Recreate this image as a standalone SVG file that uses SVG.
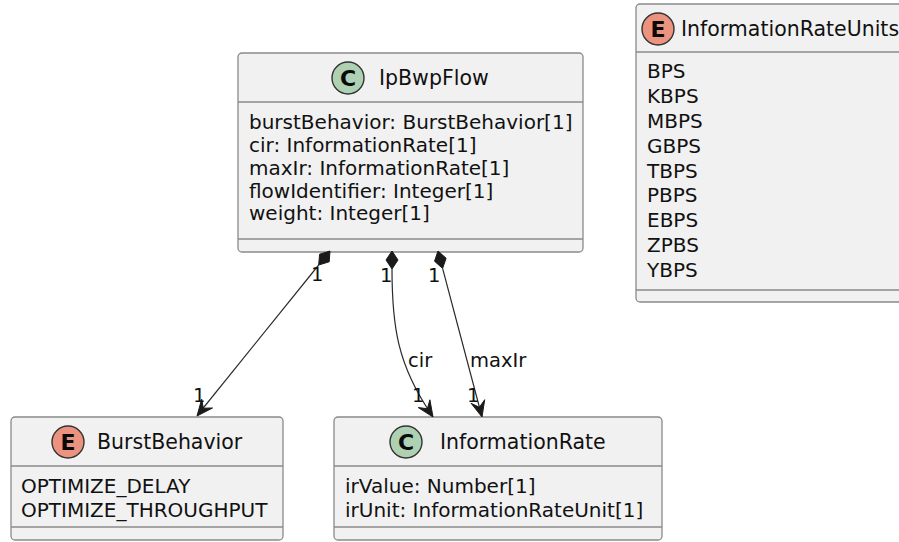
<svg xmlns="http://www.w3.org/2000/svg" width="899" height="542" viewBox="0 0 899 542">
  <style>
    .box { fill: #F1F1F1; stroke: #8a8a8a; stroke-width: 1.3; }
    .sep { stroke: #8a8a8a; stroke-width: 1.3; }
    .cls { fill: #ADD1B2; stroke: #333; stroke-width: 1.4; }
    .enm { fill: #EB937F; stroke: #333; stroke-width: 1.4; }
    .glyph { font-family: "DejaVu Sans", "Liberation Sans", sans-serif; font-size: 22px; font-weight: bold; fill: #0a0a0a; text-anchor: middle; }
    .title { font-family: "DejaVu Sans", "Liberation Sans", sans-serif; font-size: 20.5px; fill: #111; }
    .attr { font-family: "DejaVu Sans", "Liberation Sans", sans-serif; font-size: 20px; fill: #111; }
    .lbl { font-family: "DejaVu Sans", "Liberation Sans", sans-serif; font-size: 19.5px; fill: #111; }
    .edge { fill: none; stroke: #2a2a2a; stroke-width: 1.2; }
    .head { fill: #1a1a1a; stroke: #1a1a1a; stroke-width: 1; stroke-linejoin: miter; }
  </style>

  <!-- enum InformationRateUnits (runs past the right edge) -->
  <g id="InformationRateUnits">
    <rect class="box" x="636" y="4" width="290" height="298" rx="4"/>
    <line class="sep" x1="636" y1="52" x2="926" y2="52"/>
    <line class="sep" x1="636" y1="290" x2="926" y2="290"/>
    <circle class="enm" cx="658" cy="29" r="16"/>
    <text class="glyph" x="658" y="37">E</text>
    <text class="title" x="681" y="36">InformationRateUnits</text>
    <text class="attr" x="647" y="78">BPS</text>
    <text class="attr" x="647" y="103">KBPS</text>
    <text class="attr" x="647" y="128">MBPS</text>
    <text class="attr" x="647" y="153">GBPS</text>
    <text class="attr" x="647" y="178">TBPS</text>
    <text class="attr" x="647" y="202">PBPS</text>
    <text class="attr" x="647" y="227">EBPS</text>
    <text class="attr" x="647" y="252">ZPBS</text>
    <text class="attr" x="647" y="277">YBPS</text>
  </g>

  <!-- class IpBwpFlow -->
  <g id="IpBwpFlow">
    <rect class="box" x="238" y="53" width="345" height="199" rx="4"/>
    <line class="sep" x1="238" y1="102" x2="583" y2="102"/>
    <line class="sep" x1="238" y1="239" x2="583" y2="239"/>
    <circle class="cls" cx="348" cy="78" r="16"/>
    <text class="glyph" x="348" y="86">C</text>
    <text class="title" x="379" y="85">IpBwpFlow</text>
    <text class="attr" x="249" y="129">burstBehavior: BurstBehavior[1]</text>
    <text class="attr" x="249" y="152">cir: InformationRate[1]</text>
    <text class="attr" x="249" y="175">maxIr: InformationRate[1]</text>
    <text class="attr" x="249" y="197.5">flowIdentifier: Integer[1]</text>
    <text class="attr" x="249" y="220">weight: Integer[1]</text>
  </g>

  <!-- enum BurstBehavior -->
  <g id="BurstBehavior">
    <rect class="box" x="11" y="417" width="272" height="123" rx="4"/>
    <line class="sep" x1="11" y1="466" x2="283" y2="466"/>
    <line class="sep" x1="11" y1="527" x2="283" y2="527"/>
    <circle class="enm" cx="68" cy="442" r="16"/>
    <text class="glyph" x="68" y="450">E</text>
    <text class="title" x="97" y="449">BurstBehavior</text>
    <text class="attr" x="21" y="493">OPTIMIZE_DELAY</text>
    <text class="attr" x="21" y="517">OPTIMIZE_THROUGHPUT</text>
  </g>

  <!-- class InformationRate -->
  <g id="InformationRate">
    <rect class="box" x="334" y="417" width="328" height="123" rx="4"/>
    <line class="sep" x1="334" y1="466" x2="662" y2="466"/>
    <line class="sep" x1="334" y1="527" x2="662" y2="527"/>
    <circle class="cls" cx="406" cy="442" r="16"/>
    <text class="glyph" x="406" y="450">C</text>
    <text class="title" x="440" y="449">InformationRate</text>
    <text class="attr" x="345" y="493">irValue: Number[1]</text>
    <text class="attr" x="345" y="517">irUnit: InformationRateUnit[1]</text>
  </g>

  <!-- compositions from IpBwpFlow -->
  <g id="connectors">
    <!-- burstBehavior -->
    <path class="edge" d="M318.7,265 L198,414.5"/>
    <polygon class="head" points="330,251 329.2,261.8 318.7,265 319.6,254.2"/>
    <polygon class="head" points="197,416 201.7,399.2 203.3,408.2 212.5,408"/>
    <text class="lbl" x="311" y="281">1</text>
    <text class="lbl" x="193" y="402">1</text>

    <!-- cir -->
    <path class="edge" d="M392,269 C392,325 397,365 432.5,416"/>
    <polygon class="head" points="433,417 418.3,407.6 427.4,408.7 429.9,399.8"/>
    <polygon class="head" points="392,251 398,260 392,269 386,260"/>
    <text class="lbl" x="380" y="282">1</text>
    <text class="lbl" x="408" y="367">cir</text>
    <text class="lbl" x="412" y="402">1</text>

    <!-- maxIr -->
    <path class="edge" d="M442.6,268.4 L481.6,415.5"/>
    <polygon class="head" points="438,251 446.1,258.2 442.6,268.4 434.5,261.2"/>
    <polygon class="head" points="482,417 471.1,403.3 479.4,407.3 484.7,399.7"/>
    <text class="lbl" x="428" y="282">1</text>
    <text class="lbl" x="470" y="367">maxIr</text>
    <text class="lbl" x="467" y="402">1</text>
  </g>
</svg>
